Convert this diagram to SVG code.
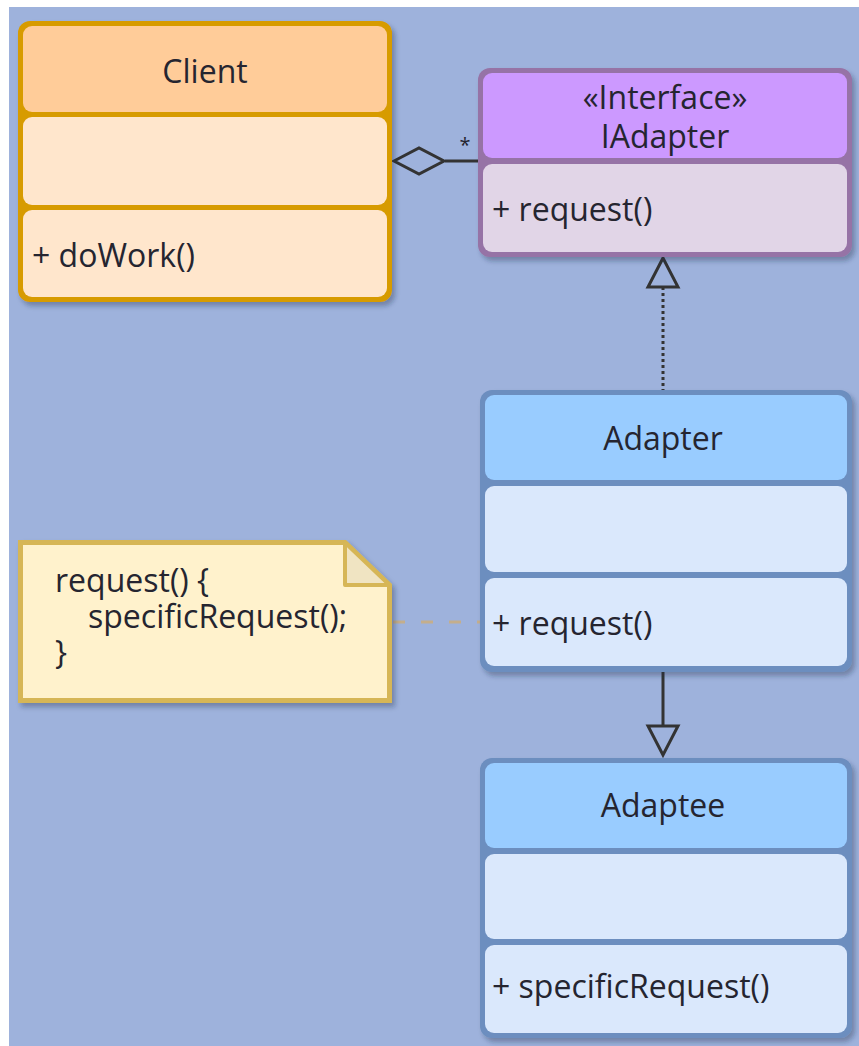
<svg xmlns="http://www.w3.org/2000/svg" width="859" height="1046" viewBox="0 0 859 1046">
<defs>
<style>
.t{font-family:"Open Sans","Liberation Sans",sans-serif;font-size:32px;fill:#252530;}
.c{text-anchor:middle;}
.ln{stroke:#333;stroke-width:3;fill:none;}
.hol{stroke:#333;stroke-width:3;fill:#9EB2DC;stroke-linejoin:miter;}
</style>
<filter id="sh" x="-10%" y="-10%" width="130%" height="130%">
<feDropShadow dx="3" dy="4" stdDeviation="2.5" flood-color="#1a2540" flood-opacity="0.35"/>
</filter>
</defs>
<rect x="0" y="0" width="859" height="1046" fill="#ffffff"/>
<rect x="9" y="7" width="850" height="1039" fill="#9EB2DC"/>

<g id="connectors">
<line class="ln" x1="445" y1="161" x2="478" y2="161"/>
<polygon class="hol" points="394,161 419,148 444,161 419,174"/>
<text class="t" x="465" y="152" style="font-size:20px" text-anchor="middle">*</text>
<line class="ln" x1="663" y1="287" x2="663" y2="390" stroke-dasharray="3 3"/>
<polygon class="hol" points="663,258 648,287 678,287"/>
<line class="ln" x1="663" y1="672" x2="663" y2="726"/>
<polygon class="hol" points="648,726 678,726 663,755"/>
<line x1="393" y1="622" x2="480" y2="622" stroke="#C4AE8C" stroke-width="3" stroke-dasharray="12 16"/>
</g>

<g id="client" filter="url(#sh)">
<rect x="18" y="21" width="374" height="281" rx="12" fill="#D79B00"/>
<rect x="23" y="26" width="364" height="86" rx="9" fill="#FFCC99"/>
<rect x="23" y="117" width="364" height="88" rx="9" fill="#FFE6CC"/>
<rect x="23" y="210" width="364" height="87" rx="9" fill="#FFE6CC"/>
</g>
<g id="client-text">
<text class="t c" x="205" y="83">Client</text>
<text class="t" x="32" y="267">+ doWork()</text>
</g>

<g id="iadapter" filter="url(#sh)">
<rect x="478" y="68" width="374" height="189" rx="12" fill="#9673A6"/>
<rect x="483" y="73" width="364" height="85" rx="9" fill="#CC99FF"/>
<rect x="483" y="164" width="364" height="88" rx="9" fill="#E1D5E7"/>
</g>
<g id="iadapter-text">
<text class="t c" x="665" y="109">«Interface»</text>
<text class="t c" x="665" y="148">IAdapter</text>
<text class="t" x="492" y="221">+ request()</text>
</g>

<g id="adapter" filter="url(#sh)">
<rect x="480" y="390" width="372" height="282" rx="12" fill="#6C8EBF"/>
<rect x="485" y="395" width="362" height="85" rx="9" fill="#99CCFF"/>
<rect x="485" y="486" width="362" height="86" rx="9" fill="#DAE8FC"/>
<rect x="485" y="578" width="362" height="88" rx="9" fill="#DAE8FC"/>
</g>
<g id="adapter-text">
<text class="t c" x="663" y="450">Adapter</text>
<text class="t" x="492" y="635">+ request()</text>
</g>

<g id="adaptee" filter="url(#sh)">
<rect x="480" y="758" width="372" height="280" rx="12" fill="#6C8EBF"/>
<rect x="485" y="763" width="362" height="85" rx="9" fill="#99CCFF"/>
<rect x="485" y="854" width="362" height="85" rx="9" fill="#DAE8FC"/>
<rect x="485" y="945" width="362" height="88" rx="9" fill="#DAE8FC"/>
</g>
<g id="adaptee-text">
<text class="t c" x="663" y="817">Adaptee</text>
<text class="t" x="492" y="998">+ specificRequest()</text>
</g>

<g id="note">
<path d="M20.5,542.5 H345 L389.5,585 V700.5 H20.5 Z" fill="#FFF2CC" stroke="#D6B656" stroke-width="5" filter="url(#sh)"/>
<path d="M345,542.5 V585 H389.5 Z" fill="#F0E4C2" stroke="#D6B656" stroke-width="4" stroke-linejoin="round"/>
<text class="t" x="55" y="592">request() {</text>
<text class="t" x="88" y="628">specificRequest();</text>
<text class="t" x="55" y="664">}</text>
</g>
</svg>
